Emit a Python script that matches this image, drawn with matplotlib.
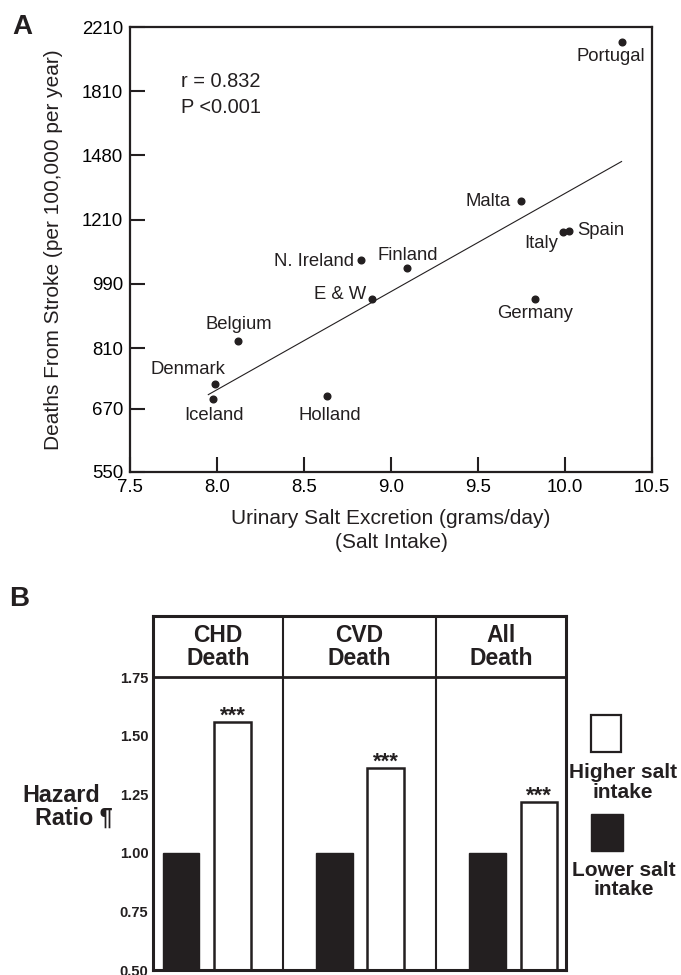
import matplotlib
matplotlib.use('Agg')
import matplotlib.pyplot as plt
from matplotlib.patches import Rectangle
from matplotlib.ticker import FixedLocator, NullLocator, FixedFormatter

# ---------------- Panel A data ----------------
countries = ['Portugal', 'Malta', 'Spain', 'Italy', 'Finland', 'N. Ireland',
             'E & W', 'Germany', 'Belgium', 'Denmark', 'Iceland', 'Holland']
salt = [10.33, 9.745, 10.025, 9.99, 9.09, 8.83, 8.89, 9.83, 8.12, 7.99, 7.975, 8.63]
stroke = [2108, 1283, 1170, 1164, 1040, 1066, 944, 943, 827, 724, 690, 697]
fit_x = [7.95, 10.325]
fit_y = [700, 1452]
yticks_a = [550, 670, 810, 990, 1210, 1480, 1810, 2210]
xticks_a = [7.5, 8.0, 8.5, 9.0, 9.5, 10.0, 10.5]
xticklabels_a = ['7.5', '8.0', '8.5', '9.0', '9.5', '10.0', '10.5']

# ---------------- Panel B data ----------------
outcomes = ['CHD\nDeath', 'CVD\nDeath', 'All\nDeath']
lower_hr = [1.0, 1.0, 1.0]
higher_hr = [1.558, 1.361, 1.217]
sig = ['***', '***', '***']
yticks_b = [0.50, 0.75, 1.00, 1.25, 1.50, 1.75]
yticklabels_b = ['0.50', '0.75', '1.00', '1.25', '1.50', '1.75']

plt.rcParams['font.family'] = ['Liberation Sans', 'DejaVu Sans']
INK = '#231f20'

W, H = 681, 975
fig = plt.figure(figsize=(W / 100, H / 100), dpi=100)

def fx(px):
    return px / W

def fy(py):
    return 1 - py / H

# ================= Panel A =================
axA = fig.add_axes([fx(130), fy(471.7), fx(652) - fx(130), fy(27.3) - fy(471.7)])
axA.set_yscale('log')
axA.set_xlim(7.5, 10.5)
axA.set_ylim(550, 2210)
axA.yaxis.set_major_locator(FixedLocator(yticks_a))
axA.yaxis.set_major_formatter(FixedFormatter([str(v) for v in yticks_a]))
axA.yaxis.set_minor_locator(NullLocator())
axA.set_xticks(xticks_a)
axA.set_xticklabels(xticklabels_a)
for s in axA.spines.values():
    s.set_linewidth(1.6)
    s.set_color(INK)
axA.tick_params(axis='x', direction='in', length=10.8, width=1.5, pad=5, labelsize=13.4,
                color=INK)
axA.tick_params(axis='y', direction='in', length=10.8, width=1.5, pad=4.8, labelsize=13.4,
                color=INK)

axA.plot(fit_x, fit_y, color=INK, lw=0.8)
axA.plot(salt, stroke, 'o', color=INK, ms=4.8)

offsets = {
    'Portugal': (-8, -10, 'center'),
    'Malta': (-7, 0, 'right'),
    'Spain': (6, 0, 'left'),
    'Italy': (-16, -8, 'center'),
    'Finland': (1, 9, 'center'),
    'N. Ireland': (-5, -1, 'right'),
    'E & W': (-4, 3, 'right'),
    'Germany': (0, -10, 'center'),
    'Belgium': (1, 12.5, 'center'),
    'Denmark': (-20, 10, 'center'),
    'Iceland': (1, -12, 'center'),
    'Holland': (2, -14, 'center'),
}
for c, xv, yv in zip(countries, salt, stroke):
    dx, dy, ha = offsets[c]
    axA.annotate(c, (xv, yv), xytext=(dx, dy), textcoords='offset points',
                 ha=ha, va='center', fontsize=13.3, color=INK)

axA.text(7.793, 1863, 'r = 0.832', fontsize=14.4, va='center', color=INK)
axA.text(7.793, 1722, 'P <0.001', fontsize=14.4, va='center', color=INK)

fig.text(fx(54), fy(250), 'Deaths From Stroke (per 100,000 per year)', rotation=90,
         ha='center', va='center', fontsize=15, color=INK)
fig.text(fx(391), fy(518), 'Urinary Salt Excretion (grams/day)', ha='center', va='center',
         fontsize=15, color=INK)
fig.text(fx(391), fy(542), '(Salt Intake)', ha='center', va='center', fontsize=15, color=INK)

fig.text(fx(22), fy(26.5), 'A', fontsize=20, fontweight='bold', va='center', ha='center',
         color=INK)
fig.text(fx(19), fy(599), 'B', fontsize=20, fontweight='bold', va='center', ha='center',
         color=INK)

# ================= Panel B =================
header_top = 2.012
xmin_b, xmax_b = -0.351, 2.345
axB = fig.add_axes([fx(152.7), fy(970), fx(565.7) - fx(152.7), fy(616) - fy(970)])
x = list(range(len(outcomes)))
bw = 0.24
axB.bar([i - 0.166 for i in x], [v - 0.5 for v in lower_hr], bottom=0.5, width=bw,
        color=INK, edgecolor=INK, lw=1.0)
axB.bar([i + 0.17 for i in x], [v - 0.5 for v in higher_hr], bottom=0.5, width=bw,
        color='white', edgecolor=INK, lw=1.8)
for i, v, s in zip(x, higher_hr, sig):
    axB.annotate(s, (i + 0.17, v), xytext=(0, 4.5), textcoords='offset points',
                 ha='center', va='center', fontsize=16, fontweight='bold', color=INK)
cells = [(xmin_b, 0.5), (0.5, 1.5), (1.5, xmax_b)]
for (a, b), name in zip(cells, outcomes):
    axB.text((a + b) / 2, (1.75 + header_top) / 2, name, ha='center', va='center',
             fontsize=16.5, fontweight='bold', linespacing=1.0, color=INK)
axB.axhline(1.75, color=INK, lw=2.0)
for d in [0.5, 1.5]:
    axB.axvline(d, color=INK, lw=1.5)
axB.set_xlim(xmin_b, xmax_b)
axB.set_ylim(0.5, header_top)
axB.set_xticks([])
axB.set_yticks(yticks_b)
axB.set_yticklabels(yticklabels_b)
axB.tick_params(axis='y', length=0, pad=3.2, labelsize=10.5, labelcolor=INK)
for lab in axB.get_yticklabels():
    lab.set_fontweight('bold')
for s in axB.spines.values():
    s.set_linewidth(2.2)
    s.set_color(INK)

fig.text(fx(61.6), fy(795), 'Hazard', ha='center', va='center', fontsize=16.8,
         fontweight='bold', color=INK)
fig.text(fx(73.7), fy(818.3), 'Ratio ¶', ha='center', va='center', fontsize=16.8,
         fontweight='bold', color=INK)

# legend (manual)
fig.add_artist(Rectangle((fx(591), fy(751.7)), fx(30), fy(715) - fy(751.7),
                         transform=fig.transFigure, facecolor='white', edgecolor=INK, lw=1.6))
fig.add_artist(Rectangle((fx(591), fy(850.7)), fx(31.5), fy(814) - fy(850.7),
                         transform=fig.transFigure, facecolor=INK, edgecolor=INK, lw=1.0))
fig.text(fx(622.6), fy(782.5), 'Higher salt\nintake', ha='center', va='center', fontsize=15,
         fontweight='bold', linespacing=1.05, color=INK)
fig.text(fx(624), fy(880), 'Lower salt\nintake', ha='center', va='center', fontsize=15,
         fontweight='bold', linespacing=1.05, color=INK)

fig.savefig('out.png', dpi=100)
